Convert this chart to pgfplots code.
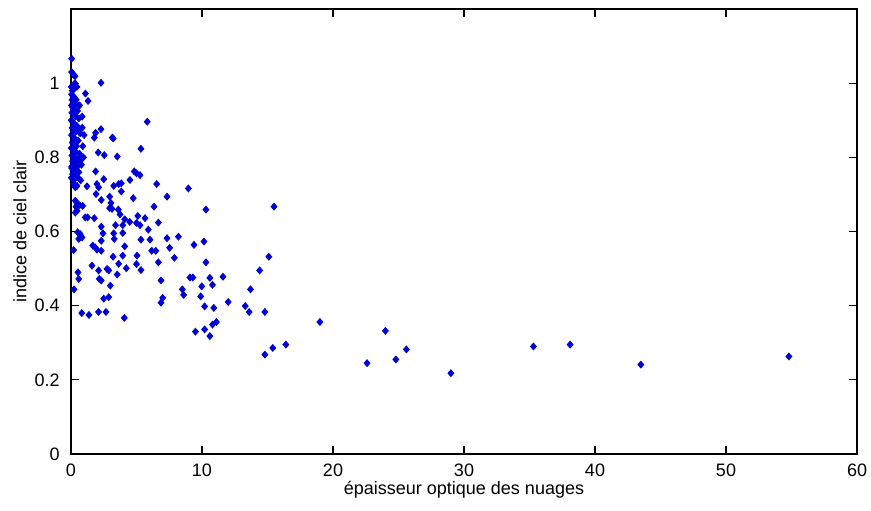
\documentclass[border=0pt]{standalone}
\usepackage{pgfplots}
\pgfplotsset{compat=1.18}
\usepackage{fontspec}
\setmainfont{Liberation Sans}
\begin{document}
\fontsize{9}{11}\selectfont
\begin{tikzpicture}
\useasboundingbox (-35.5pt,-28pt) rectangle (400pt,227pt);
\begin{axis}[
  at={(0pt,0pt)}, anchor=south west,
  scale only axis, width=393pt, height=222.5pt,
  xmin=0, xmax=60, ymin=0, ymax=1.2,
  xtick={0,10,...,60}, ytick={0,0.2,0.4,0.6,0.8,1},
  yticklabels={0,0.2,0.4,0.6,0.8,1},
  tick align=inside, major tick length=4pt,
  xtick pos=both, ytick pos=both,
  axis line style={black, line width=0.6pt},
  every tick/.style={black, line width=0.6pt},
  /pgf/number format/assume math mode=true,
  tick label style={font=\fontsize{9}{11}\selectfont},
  xticklabel style={anchor=center, yshift=-8pt},
  yticklabel style={anchor=east, xshift=-2.5pt},
  xlabel={épaisseur optique des nuages},
  ylabel={indice de ciel clair},
  every axis x label/.style={at={(axis description cs:0.5,0)}, yshift=-18pt, anchor=center},
  every axis y label/.style={at={(axis description cs:0,0.5)}, xshift=-25.5pt, rotate=90, anchor=center},
  clip=false,
]
\addplot[only marks, mark=diamond*, mark size=1.7pt, color=blue!85!black, fill=blue!85!black, mark options={xscale=1.15}] table {
x y
25.6 0.282
29.0 0.218
35.3 0.290
38.1 0.295
43.5 0.241
54.8 0.263
24.0 0.332
24.8 0.255
22.6 0.245
19.0 0.356
14.8 0.268
15.4 0.286
16.4 0.295
15.5 0.667
15.1 0.532
14.4 0.495
14.8 0.383
13.6 0.383
13.3 0.399
13.7 0.444
12.0 0.410
11.6 0.478
10.9 0.394
10.8 0.456
10.2 0.398
9.98 0.452
9.9 0.425
10.2 0.336
10.8 0.349
11.1 0.356
10.6 0.318
9.5 0.330
10.6 0.475
9.3 0.476
9.08 0.476
8.5 0.444
8.6 0.429
10.3 0.517
10.15 0.573
9.39 0.564
8.2 0.586
10.3 0.659
8.96 0.716
5.82 0.896
5.34 0.823
4.83 0.762
5.0 0.757
5.27 0.752
4.5 0.739
6.54 0.728
7.33 0.694
4.75 0.690
6.34 0.667
5.1 0.642
5.65 0.636
5.0 0.623
5.27 0.617
6.67 0.624
5.9 0.605
5.34 0.578
6.03 0.578
7.33 0.582
6.16 0.548
6.47 0.548
7.53 0.556
7.89 0.529
6.67 0.517
5.0 0.512
5.34 0.496
6.87 0.468
7.0 0.421
6.87 0.408
4.07 0.367
2.29 1.001
1.1 0.972
1.3 0.952
2.29 0.876
1.88 0.866
1.78 0.853
3.15 0.853
3.23 0.851
2.08 0.813
2.54 0.806
3.53 0.802
0.86 0.880
1.88 0.762
2.5 0.741
1.22 0.722
1.98 0.728
2.11 0.719
3.26 0.723
3.64 0.728
3.84 0.730
3.84 0.708
1.91 0.701
2.31 0.685
2.95 0.694
3.05 0.677
2.95 0.663
3.13 0.661
3.61 0.659
3.74 0.646
1.09 0.638
1.27 0.638
1.78 0.636
4.1 0.633
3.4 0.617
2.31 0.613
4.48 0.626
3.95 0.617
2.44 0.595
3.26 0.595
3.3 0.580
3.95 0.596
2.31 0.575
1.66 0.562
1.85 0.557
1.98 0.551
2.31 0.548
4.1 0.560
3.95 0.535
3.21 0.532
5.04 0.535
1.6 0.508
2.11 0.495
2.75 0.499
2.88 0.495
3.64 0.513
4.22 0.501
2.16 0.472
2.31 0.468
3.0 0.454
3.53 0.484
2.5 0.419
2.88 0.423
0.82 0.380
1.37 0.375
2.1 0.383
2.67 0.383
0.23 0.444
0.53 0.490
0.59 0.472
0.05 1.066
0.05 1.030
0.18 1.023
0.31 1.019
0.2 0.728
0.33 0.719
0.46 0.723
0.33 0.683
0.46 0.676
0.66 0.671
0.89 0.669
0.38 0.667
0.46 0.656
0.33 0.651
0.51 0.598
0.71 0.593
0.84 0.584
0.59 0.580
0.2 0.550
0.56 0.744
0.74 0.738
0.05 0.771
0.69 0.790
0.02 0.99
0.10 0.98
0.25 0.985
0.05 0.97
0.15 0.965
0.30 0.96
0.08 0.955
0.20 0.95
0.40 0.945
0.03 0.94
0.12 0.935
0.27 0.93
0.50 0.925
0.06 0.92
0.18 0.915
0.35 0.91
0.60 0.905
0.02 0.90
0.14 0.895
0.28 0.89
0.45 0.885
0.09 0.88
0.22 0.875
0.38 0.87
0.70 0.865
0.04 0.86
0.16 0.855
0.30 0.85
0.55 0.845
0.10 0.84
0.24 0.835
0.42 0.83
0.02 0.825
0.20 0.82
0.36 0.815
0.65 0.81
0.07 0.805
0.28 0.80
0.48 0.795
0.13 0.79
0.33 0.785
0.80 0.78
0.05 0.775
0.22 0.77
0.44 0.765
0.60 0.76
0.12 0.755
0.35 0.75
0.03 0.745
0.26 0.74
0.5 0.775
0.75 0.80
0.9 0.83
0.58 0.87
0.66 0.94
0.45 0.99
0.3 1.0
0.85 0.91
1.0 0.86
0.95 0.80
0.4 0.955
};
\end{axis}
\end{tikzpicture}
\end{document}
